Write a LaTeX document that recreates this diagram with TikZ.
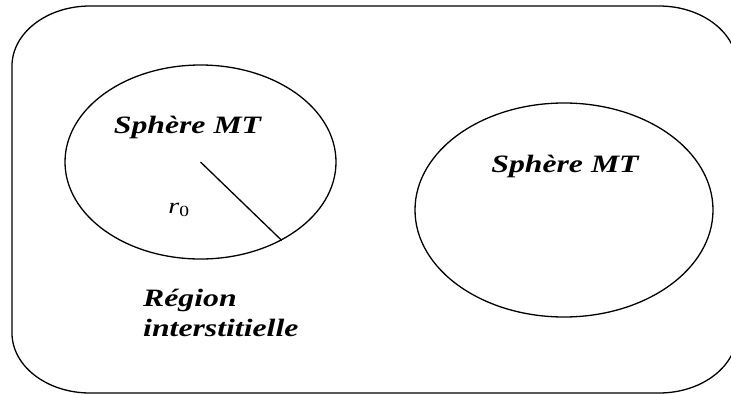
\documentclass[tikz,border=0pt]{standalone}
\usepackage{fontspec}
\usetikzlibrary{shapes.geometric}
\setmainfont{Liberation Serif}
\newcommand\stretchtxt[1]{\scalebox{1.27}[1]{#1}}
\tikzset{
  frame/.style={line width=1.3pt},
  sphere/.style={draw, ellipse, line width=1.3pt, inner sep=0pt},
  lab/.style={font=\fontsize{25}{27}\selectfont\bfseries\itshape, inner sep=0pt},
  rlab/.style={font=\fontsize{22}{24}\selectfont, inner sep=0pt},
}
\begin{document}
\begin{tikzpicture}[x=1pt,y=-1pt]
\useasboundingbox (0,0) rectangle (731,394);
% outer rounded frame (right side runs past the picture edge)
\draw[frame] (90,6) -- (659,6)
  arc[start angle=-90, end angle=0, x radius=78, y radius=60] -- (737,333)
  arc[start angle=0, end angle=90, x radius=78, y radius=60] -- (90,393)
  arc[start angle=90, end angle=180, x radius=78, y radius=60] -- (12,66)
  arc[start angle=180, end angle=270, x radius=78, y radius=60] -- cycle;
% spheres
\node[sphere, minimum width=271pt, minimum height=194pt] (s1) at (200.5,162) {};
\node[sphere, minimum width=298pt, minimum height=214pt] (s2) at (564,210) {};
% radius
\coordinate (c1) at (s1.center);
\draw[line width=1.3pt] (c1) -- (s1.-44);
% labels
\node[lab] (t1) at (187.5,127) {\stretchtxt{Sphère MT}};
\node[lab] (t2) at (565,166) {\stretchtxt{Sphère MT}};
\node[rlab] (r0) at (179,210) {\stretchtxt{\textit{r}\textsubscript{0}}};
\node[lab, anchor=west] (reg) at (143,300) {\stretchtxt{Région}};
\node[lab, anchor=west] (reg2) at (143,328) {\stretchtxt{interstitielle}};
\end{tikzpicture}
\end{document}
